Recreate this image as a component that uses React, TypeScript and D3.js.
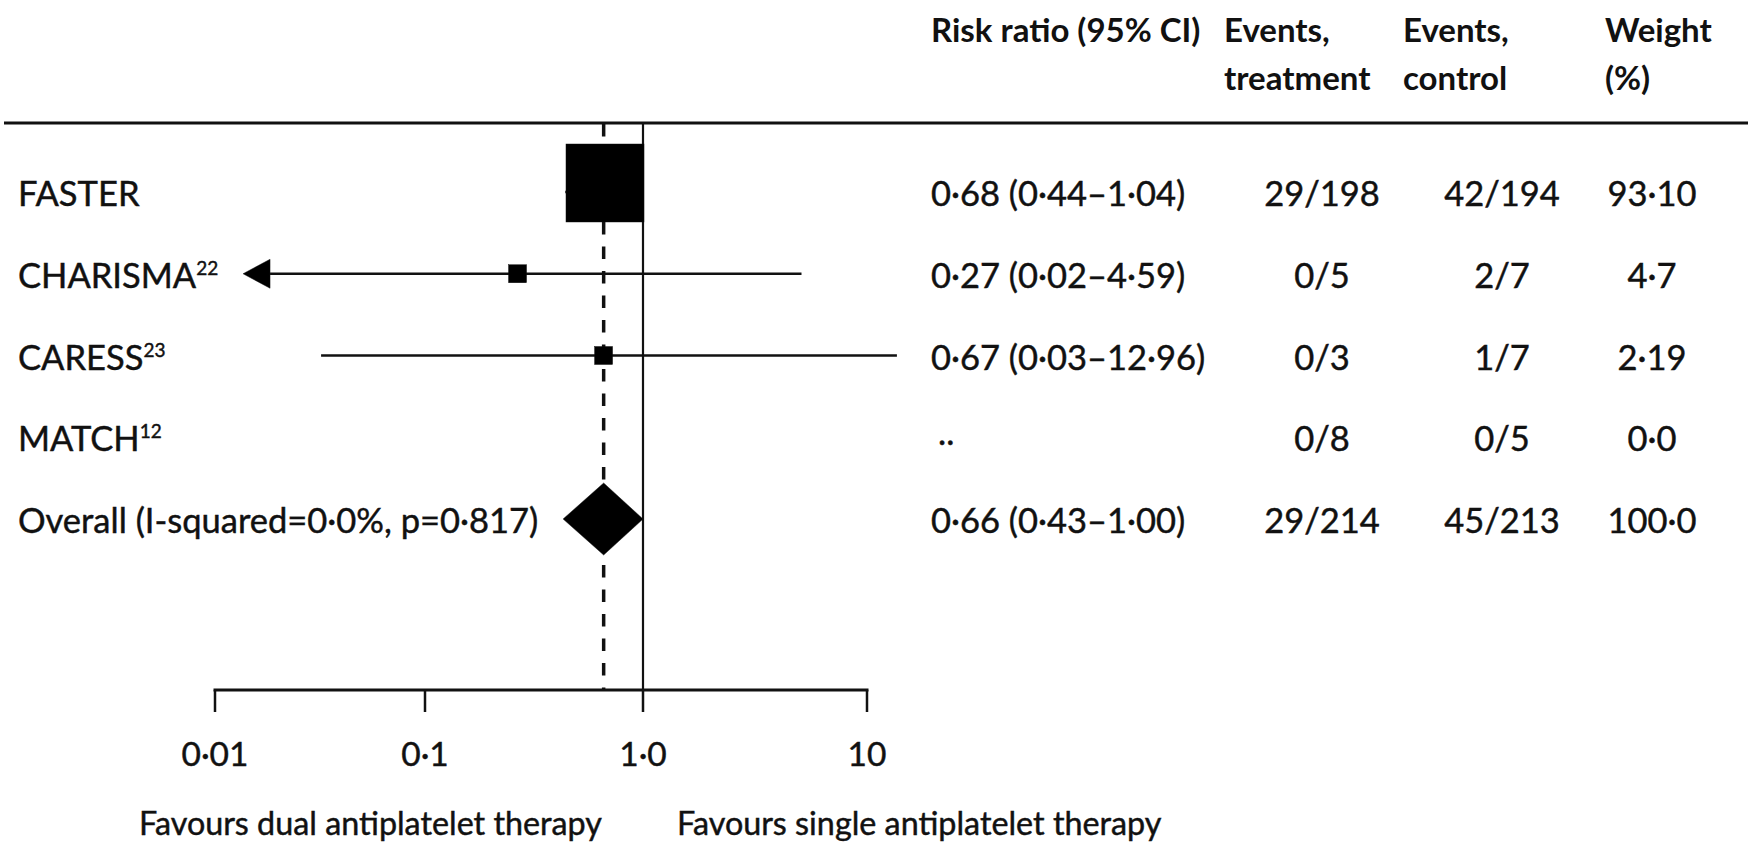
import React from "react"
import * as d3 from "d3"

// rows of the forest plot
const studies = ["FASTER", "CHARISMA", "CARESS", "MATCH", "Overall (I-squared=0·0%, p=0·817)"]
const refs = ["", "22", "23", "12", ""]
const riskRatio = [0.68, 0.27, 0.67, null, 0.66]
const ciLow = [0.44, 0.02, 0.03, null, 0.43]
const ciHigh = [1.04, 4.59, 12.96, null, 1.0]
// ends of the CI lines as drawn in the figure (they do not follow the labels exactly)
const lineLow = [0.44, 0.0136, 0.032, null, 0.43]
const lineHigh = [1.0, 5.1, 13.6, null, 1.0]
const arrowLeft = [false, true, false, false, false]
const eventsTreatment = ["29/198", "0/5", "0/3", "0/8", "29/214"]
const eventsControl = ["42/194", "2/7", "1/7", "0/5", "45/213"]
const weightLabels = ["93·10", "4·7", "2·19", "0·0", "100·0"]
const weights = [93.1, 4.7, 2.19, 0, 100]

const xTicks = [0.01, 0.1, 1, 10]
const xTickLabels = ["0·01", "0·1", "1·0", "10"]
const headers = [["Risk ratio (95% CI)"], ["Events,", "treatment"], ["Events,", "control"], ["Weight", "(%)"]]
const favours = ["Favours dual antiplatelet therapy", "Favours single antiplatelet therapy"]

const width = 1748
const height = 843
const font = "Lato, 'Open Sans', sans-serif"
const fs = 34.5

const fmt = (v: number) => v.toFixed(2).replace(".", "·")

const App = () => {
  // the printed axis is not perfectly even, so map each decade separately
  const x = d3.scaleLog().domain([0.01, 0.1, 1, 10]).range([215, 425, 643, 867])
  const y = d3.scalePoint().domain(studies).range([194, 521])
  const size = d3.scaleSqrt().domain([0, 93.1]).range([0, 78])

  const ruleY = 123
  const axisY = 690
  const overall = studies.length - 1
  const overallRR = riskRatio[overall] as number

  // header columns (left edge) and data columns (centre)
  const headerX = [931, 1224, 1403, 1605]
  const colX = [1322, 1502, 1652]
  const textStroke = { stroke: "#111", strokeWidth: 0.45 }

  return (
    <svg width={width} height={height} style={{ position: "absolute", left: 0, top: 0 }}
      fontFamily={font} fontSize={fs} fill="#111">
      <rect width={width} height={height} fill="#fff" />

      {/* headers */}
      {headers.map((lines, i) => (
        <text key={i} x={headerX[i]} y={42} fontWeight="bold" fontSize={33}>
          {lines.map((l, j) => (
            <tspan key={j} x={headerX[i]} dy={j === 0 ? 0 : 48}>{l}</tspan>
          ))}
        </text>
      ))}
      <line x1={4} x2={width} y1={ruleY} y2={ruleY} stroke="#111" strokeWidth={3} />

      {/* reference lines */}
      <line x1={x(1)} x2={x(1)} y1={ruleY} y2={axisY} stroke="#111" strokeWidth={2.2} />
      <line x1={x(overallRR)} x2={x(overallRR)} y1={ruleY + 1} y2={axisY} stroke="#111"
        strokeWidth={3.5} strokeDasharray="12.5 12" />

      {/* study rows */}
      {studies.map((s, i) => {
        const ty = (y(s) as number) + 12
        const my = (y(s) as number) - 2
        const rr = riskRatio[i]
        const lo = lineLow[i]
        const hi = lineHigh[i]
        let mark = null
        if (rr !== null && lo !== null && hi !== null) {
          if (i === overall) {
            const hh = 36
            mark = (
              <path d={`M${x(ciLow[i] as number)},${my}L${x(rr)},${my - hh}L${x(ciHigh[i] as number)},${my}L${x(rr)},${my + hh}Z`}
                fill="#000" />
            )
          } else {
            const sz = Math.max(18, size(weights[i]))
            const lift = sz > 40 ? 9 : 0
            const x0 = arrowLeft[i] ? x(lo) + 27 : x(lo)
            mark = (
              <g>
                <line x1={x0} x2={x(hi)} y1={my} y2={my} stroke="#111" strokeWidth={2.5} />
                {arrowLeft[i] && (
                  <path d={`M${x(lo)},${my}L${x(lo) + 27},${my - 14.5}L${x(lo) + 27},${my + 14.5}Z`} fill="#000" />
                )}
                <rect x={x(rr) - sz / 2 - 1.5} y={my - lift - sz / 2} width={sz} height={sz} fill="#000" />
              </g>
            )
          }
        }
        const ciText = rr === null ? ".." : `${fmt(rr)} (${fmt(ciLow[i] as number)}–${fmt(ciHigh[i] as number)})`
        return (
          <g key={s} {...textStroke}>
            {mark}
            <text x={18} y={ty}>
              {s}
              {refs[i] && <tspan fontSize={19} dy={-13}>{refs[i]}</tspan>}
            </text>
            <text x={rr === null ? 938 : 931} y={rr === null ? ty - 6 : ty}>{ciText}</text>
            <text x={colX[0]} y={ty} textAnchor="middle">{eventsTreatment[i]}</text>
            <text x={colX[1]} y={ty} textAnchor="middle">{eventsControl[i]}</text>
            <text x={colX[2]} y={ty} textAnchor="middle">{weightLabels[i]}</text>
          </g>
        )
      })}

      {/* axis */}
      <line x1={x(0.01) - 1.5} x2={x(10) + 1.5} y1={axisY} y2={axisY} stroke="#111" strokeWidth={3} />
      {xTicks.map((t, i) => (
        <g key={t}>
          <line x1={x(t)} x2={x(t)} y1={axisY} y2={axisY + 22} stroke="#111" strokeWidth={2.5} />
          <text x={x(t)} y={axisY + 76} textAnchor="middle" fontSize={33.5} {...textStroke}>{xTickLabels[i]}</text>
        </g>
      ))}
      <text x={139} y={835} fontSize={32.3} {...textStroke}>{favours[0]}</text>
      <text x={677} y={835} fontSize={32.3} {...textStroke}>{favours[1]}</text>
    </svg>
  )
}

export default App
